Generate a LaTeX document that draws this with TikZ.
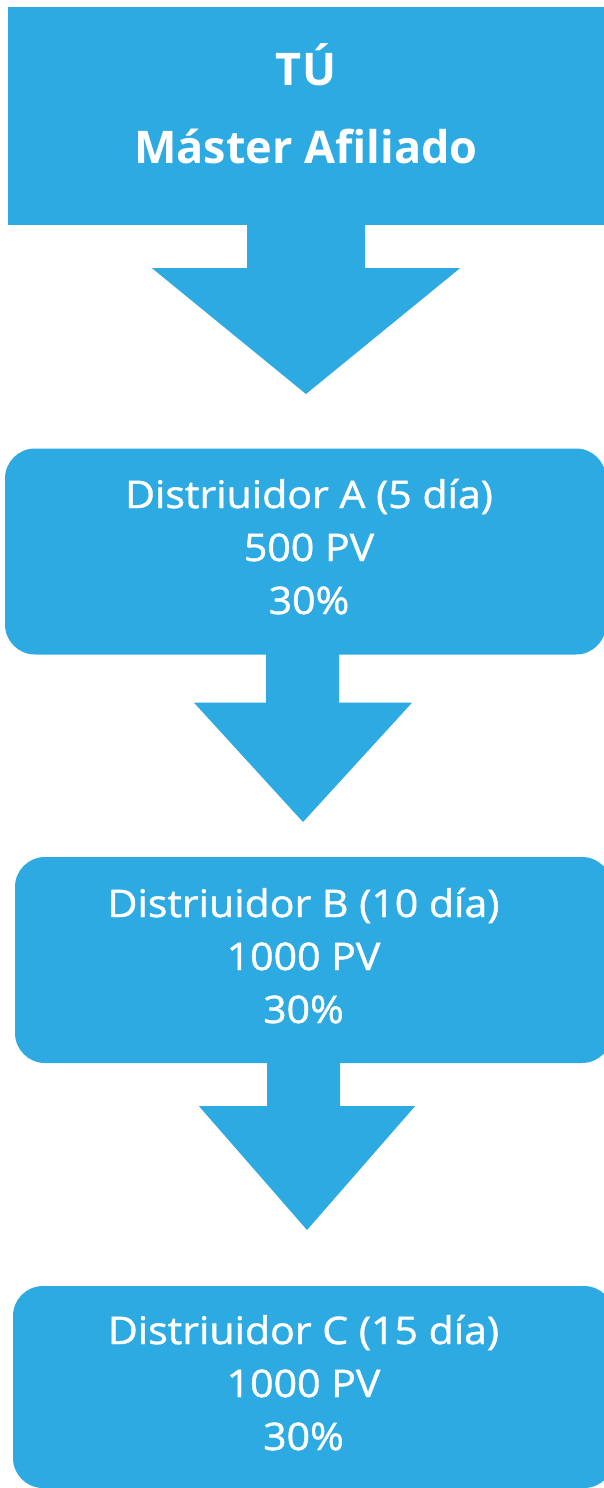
\documentclass[tikz,border=0pt]{standalone}
\usepackage{fontspec}
\setmainfont{Open Sans}
\newfontfamily\distfont{Open Sans}[FakeStretch=1.08, FakeBold=1.2]
\usepackage{tikz}
\usetikzlibrary{calc,positioning}
\definecolor{azul}{RGB}{46,170,226}

\begin{document}
\begin{tikzpicture}[x=1pt,y=-1pt,
  caja/.style={fill=azul, inner sep=0pt, minimum width=601pt, minimum height=206pt, rounded corners=30pt},
  titulo/.style={text=white, align=center, anchor=base, font=\fontsize{45}{78}\selectfont\bfseries},
  texto/.style={text=white, align=center, anchor=base, font=\distfont\fontsize{38}{53}\selectfont},
  flecha/.style={fill=azul}]
\useasboundingbox (0,0) rectangle (603,1488);
% cajas
\node[caja, sharp corners, minimum width=602pt, minimum height=218pt] (tu) at (309,116) {};
\node[caja] (distA) at (305.5,551.5) {};
\node[caja, minimum width=597pt] (distB) at (313.5,960) {};
\node[caja, minimum height=202pt] (distC) at (313.5,1387) {};
% textos
\node[titulo] (tuT) at (306,163) {TÚ\\Máster Afiliado};
\node[texto] (distAT) at (309,614) {Distriuidor A (5 día)\\500 PV\\30\%};
\node[texto] (distBT) at (303.5,1023) {Distriuidor B (10 día)\\1000 PV\\30\%};
\node[texto] (distCT) at (303.5,1450) {Distriuidor C (15 día)\\1000 PV\\30\%};
% flechas
\coordinate (p1) at (306,394);
\coordinate (p2) at (303,822);
\coordinate (p3) at (307,1230);
\fill[flecha] ($(p1 |- tu.south)+(-59,-1)$) -- ($(p1 |- tu.south)+(59,-1)$) -- ($(p1 |- tu.south)+(59,43)$) -- ($(p1 |- tu.south)+(154,43)$) -- (p1) -- ($(p1 |- tu.south)+(-154,43)$) -- ($(p1 |- tu.south)+(-59,43)$) -- cycle;
\fill[flecha] ($(p2 |- distA.south)+(-37,-1)$) -- ($(p2 |- distA.south)+(36,-1)$) -- ($(p2 |- distA.south)+(36,48)$) -- ($(p2 |- distA.south)+(109,48)$) -- (p2) -- ($(p2 |- distA.south)+(-109,48)$) -- ($(p2 |- distA.south)+(-37,48)$) -- cycle;
\fill[flecha] ($(p3 |- distB.south)+(-40,-1)$) -- ($(p3 |- distB.south)+(33,-1)$) -- ($(p3 |- distB.south)+(33,43)$) -- ($(p3 |- distB.south)+(108,43)$) -- (p3) -- ($(p3 |- distB.south)+(-108,43)$) -- ($(p3 |- distB.south)+(-40,43)$) -- cycle;
\end{tikzpicture}
\end{document}
